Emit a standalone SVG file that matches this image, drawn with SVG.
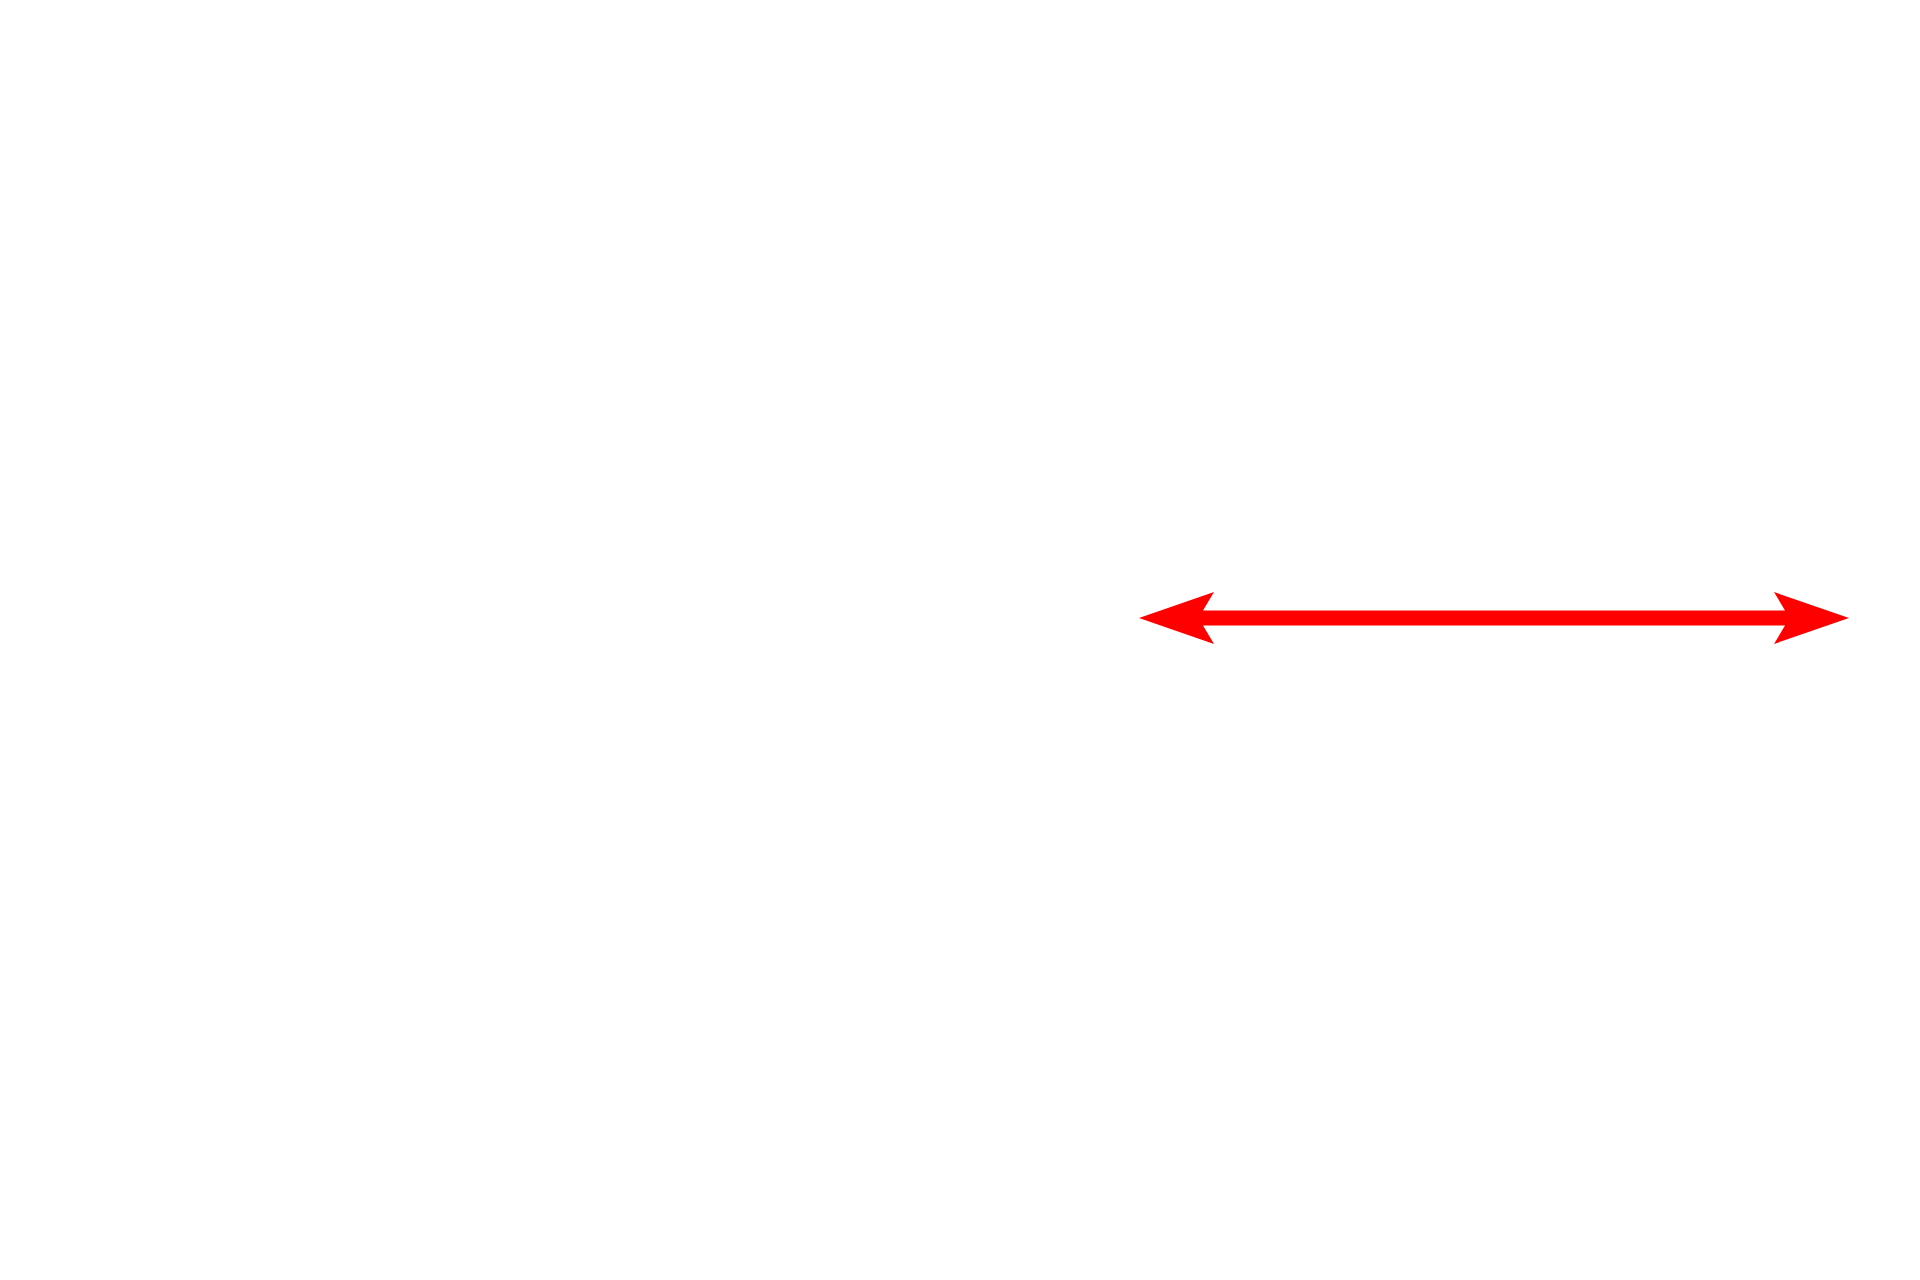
<svg xmlns="http://www.w3.org/2000/svg" width="1920" height="1280" viewBox="0 0 1920 1280">
  <style>
    .conn { stroke: #ff0000; stroke-width: 15; fill: none; }
    .head { fill: #ff0000; stroke: none; }
  </style>
  <defs>
    <marker id="arrow" markerUnits="userSpaceOnUse" markerWidth="80" markerHeight="60" viewBox="0 0 80 60" refX="11" refY="26" orient="auto-start-reverse">
      <path class="head" d="M0,0 L75,26 L0,52 L11,33.5 L11,18.5 Z"/>
    </marker>
  </defs>
  <rect width="1920" height="1280" fill="#ffffff"/>
  <g id="connectors">
    <line class="conn" x1="1203" y1="618" x2="1785" y2="618" marker-start="url(#arrow)" marker-end="url(#arrow)"/>
  </g>
</svg>
